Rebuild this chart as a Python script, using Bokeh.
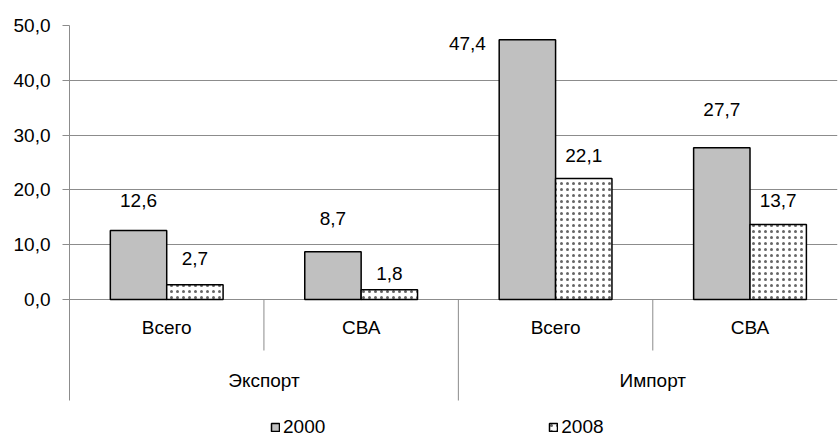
from bokeh.plotting import figure
from bokeh.models import Range1d, FixedTicker, Legend, LegendItem, ColumnDataSource
from bokeh.core.properties import value
from bokeh.embed import file_html
from bokeh.resources import INLINE

# ---- data ----
subcats = ["Всего", "СВА", "Всего", "СВА"]
groups = ["Экспорт", "Импорт"]
series_names = ["2000", "2008"]
vals_2000 = [12.6, 8.7, 47.4, 27.7]
vals_2008 = [2.7, 1.8, 22.1, 13.7]
y_ticks = [0, 10, 20, 30, 40, 50]
y_tick_labels = ["0,0", "10,0", "20,0", "30,0", "40,0", "50,0"]

# ---- layout / style ----
FONT = "Liberation Sans"
FS = "19px"
GRID = "#8c8c8c"
W, H = 838, 438
BL, BT, BR, BB = 69, 25, 1, 0
PX_PER_UNIT = 5.48
Y_MAX = 50
frame_h = H - BT - BB
Y_MIN = Y_MAX - frame_h / PX_PER_UNIT
AXIS_LOW = Y_MAX - 375 / PX_PER_UNIT

# label offsets above bar top (pixels), purely visual placement
off_2000 = [30, 33, -4, 38]
off_2008 = [26, 16, 23, 24]
xoff_2000 = [0, 0, -60 / 194.4, 0]

p = figure(width=W, height=H, output_backend="svg", toolbar_location=None,
           x_range=Range1d(0, 3.95), y_range=Range1d(Y_MIN, Y_MAX),
           min_border_left=BL, min_border_top=BT, min_border_right=BR,
           min_border_bottom=BB, x_axis_type=None)
p.outline_line_color = None
p.background_fill_color = "white"
p.xgrid.visible = False
p.ygrid.grid_line_color = GRID
p.ygrid.grid_line_width = 1
p.ygrid.ticker = FixedTicker(ticks=y_ticks)

ax = p.yaxis[0]
ax.ticker = FixedTicker(ticks=y_ticks)
ax.bounds = (AXIS_LOW, Y_MAX)
ax.major_label_overrides = {t: l for t, l in zip(y_ticks, y_tick_labels)}
ax.axis_line_color = GRID
ax.axis_line_width = 1
ax.major_tick_line_color = GRID
ax.major_tick_out = 7
ax.major_tick_in = 0
ax.minor_tick_line_color = None
ax.major_label_standoff = 12
ax.major_label_text_font = FONT
ax.major_label_text_font_size = FS
ax.major_label_text_color = "black"

n = len(subcats)
centers = [i + 0.5 for i in range(n)]
dodge = 0.145
bw = 0.29
x1 = [c - dodge for c in centers]
x2 = [c + dodge for c in centers]

src1 = ColumnDataSource(dict(x=x1, top=vals_2000))
src2 = ColumnDataSource(dict(x=x2, top=vals_2008))

r1 = p.vbar(x="x", top="top", bottom=0, width=bw, source=src1,
            fill_color="#c0c0c0", line_color="black", line_width=1.5)
r2 = p.vbar(x="x", top="top", bottom=0, width=bw, source=src2,
            fill_color="white", line_color="black", line_width=1.5,
            hatch_pattern="dot", hatch_scale=6, hatch_weight=0.4,
            hatch_color="#666666")

def fmt(v):
    return f"{v:.1f}".replace(".", ",")

lab1 = ColumnDataSource(dict(
    x=[x + dx for x, dx in zip(x1, xoff_2000)],
    y=[v + o / PX_PER_UNIT for v, o in zip(vals_2000, off_2000)],
    t=[fmt(v) for v in vals_2000]))
lab2 = ColumnDataSource(dict(
    x=x2,
    y=[v + o / PX_PER_UNIT for v, o in zip(vals_2008, off_2008)],
    t=[fmt(v) for v in vals_2008]))
for s in (lab1, lab2):
    p.text(x="x", y="y", text="t", source=s, text_align="center",
           text_baseline="middle", text_font=value(FONT),
           text_font_size=FS, text_color="black")

# category separators
sep_x = [1, 2, 3]
sep_short = -51 / PX_PER_UNIT
sep_y1 = [sep_short, AXIS_LOW, sep_short]
p.segment(x0=sep_x, y0=[0, 0, 0], x1=sep_x, y1=sep_y1,
          line_color=GRID, line_width=1)

# category labels
p.text(x=centers, y=[-28 / PX_PER_UNIT] * n, text=subcats, text_align="center",
       text_baseline="middle", text_font=value(FONT), text_font_size=FS,
       text_color="black")
p.text(x=[1, 3], y=[-81 / PX_PER_UNIT] * 2, text=groups, text_align="center",
       text_baseline="middle", text_font=value(FONT), text_font_size=FS,
       text_color="black")

legend = Legend(items=[LegendItem(label=series_names[0], renderers=[r1]),
                       LegendItem(label=series_names[1], renderers=[r2])],
                orientation="horizontal", location=(201, 0),
                spacing=223, glyph_width=10, glyph_height=10,
                label_standoff=3, label_text_font=FONT,
                label_text_font_size=FS, label_text_color="black",
                border_line_color=None, background_fill_alpha=0,
                padding=0, margin=0, label_height=20)
p.add_layout(legend, "center")

open("out.html", "w").write(file_html(p, INLINE))
